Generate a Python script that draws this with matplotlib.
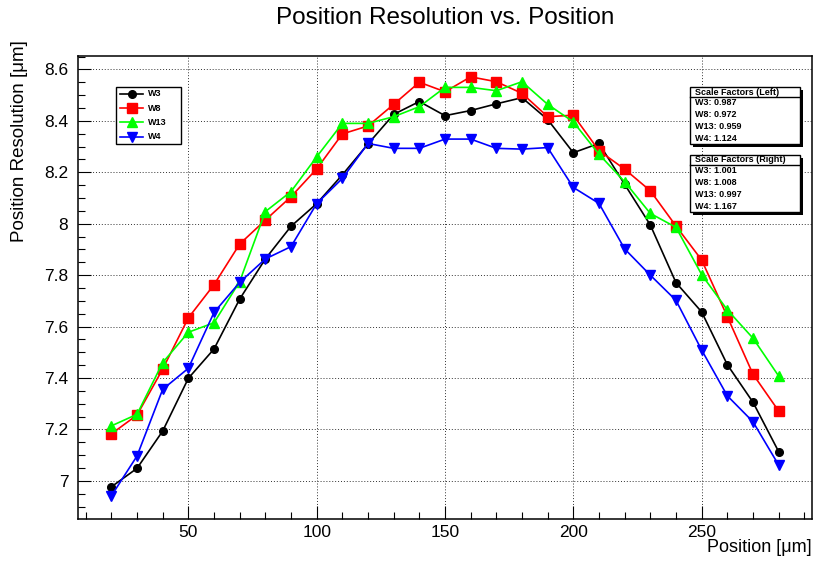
import matplotlib.pyplot as plt
from matplotlib.lines import Line2D
from matplotlib.patches import Rectangle
from matplotlib.ticker import MultipleLocator

plt.rcParams['font.family'] = ['Liberation Sans', 'DejaVu Sans']

# data
position = [20, 30, 40, 50, 60, 70, 80, 90, 100, 110, 120, 130, 140, 150,
            160, 170, 180, 190, 200, 210, 220, 230, 240, 250, 260, 270, 280]
w3 = [6.977, 7.049, 7.194, 7.399, 7.513, 7.707, 7.863, 7.99, 8.078, 8.19,
      8.31, 8.425, 8.475, 8.42, 8.44, 8.466, 8.49, 8.405, 8.276, 8.312,
      8.153, 7.995, 7.771, 7.657, 7.452, 7.306, 7.114]
w8 = [7.183, 7.256, 7.435, 7.634, 7.763, 7.921, 8.014, 8.105, 8.213, 8.349,
      8.38, 8.464, 8.55, 8.513, 8.571, 8.552, 8.507, 8.416, 8.422, 8.284,
      8.212, 8.128, 7.991, 7.859, 7.639, 7.415, 7.272]
w13 = [7.214, 7.259, 7.46, 7.578, 7.615, 7.775, 8.047, 8.125, 8.26, 8.39,
       8.39, 8.416, 8.455, 8.53, 8.53, 8.517, 8.552, 8.464, 8.396, 8.27,
       8.163, 8.04, 7.986, 7.802, 7.665, 7.555, 7.408]
w4 = [6.942, 7.097, 7.356, 7.438, 7.655, 7.772, 7.863, 7.911, 8.078, 8.176,
      8.312, 8.293, 8.293, 8.329, 8.329, 8.293, 8.29, 8.296, 8.141, 8.079,
      7.902, 7.80, 7.702, 7.509, 7.331, 7.23, 7.062]

labels = ['W3', 'W8', 'W13', 'W4']
scale_left = ['0.987', '0.972', '0.959', '1.124']
scale_right = ['1.001', '1.008', '0.997', '1.167']

W, H = 813, 561
def fx(px):
    return px / W
def fy(py):
    return 1 - py / H

colors = ['black', '#ff0000', '#00ff00', '#0000ff']
markers = ['o', 's', '^', 'v']
msizes = [5.5, 6.5, 6.5, 6.5]

fig = plt.figure(figsize=(W / 100, H / 100), dpi=100)
ax = fig.add_axes([fx(78), fy(519), fx(812) - fx(78), fy(56) - fy(519)])

for vals, c, m, ms in zip([w3, w8, w13, w4], colors, markers, msizes):
    ax.plot(position, vals, color=c, marker=m, markersize=ms, linewidth=1.2)

ax.set_xlim(7, 293)
ax.set_ylim(6.852, 8.652)
ax.xaxis.set_major_locator(MultipleLocator(50))
ax.xaxis.set_minor_locator(MultipleLocator(10))
ax.yaxis.set_major_locator(MultipleLocator(0.2))
ax.yaxis.set_minor_locator(MultipleLocator(0.05))
ax.yaxis.set_major_formatter(plt.FuncFormatter(lambda v, p: f'{v:g}'))
ax.tick_params(which='both', direction='in', top=False, right=False, labelsize=12.5)
ax.tick_params(which='major', length=9.5, width=0.8)
ax.tick_params(which='minor', length=5, width=0.8)
ax.tick_params(axis='x', pad=4)
ax.tick_params(axis='y', pad=7)
ax.grid(True, which='major', linestyle=(0, (1, 2)), color='#333333', linewidth=0.7)
for s in ax.spines.values():
    s.set_linewidth(1.1)

fig.text(fx(445.5), fy(18), 'Position Resolution vs. Position', fontsize=17.5,
         ha='center', va='center')
fig.text(fx(20), fy(40), 'Position Resolution [\u03bcm]', fontsize=13.5,
         rotation=90, ha='center', va='top')
fig.text(fx(812), fy(548), 'Position [\u03bcm]', fontsize=13, ha='right', va='center')

# legend box
fig.add_artist(Rectangle((fx(116), fy(144)), fx(181) - fx(116), fy(87) - fy(144),
                         transform=fig.transFigure, facecolor='white',
                         edgecolor='black', linewidth=1, zorder=5))
for i, (lab, c, m, ms) in enumerate(zip(labels, colors, markers, msizes)):
    yy = fy(94 + i * 14.2)
    fig.add_artist(Line2D([fx(120), fx(143)], [yy, yy], transform=fig.transFigure,
                          color=c, linewidth=1.2, zorder=6))
    fig.add_artist(Line2D([fx(131.5)], [yy], transform=fig.transFigure, color=c,
                          marker=m, markersize=ms, zorder=6))
    fig.text(fx(148), yy, lab, fontsize=6.5, fontweight='bold', va='center',
             ha='left', zorder=7)

# scale factor boxes
def scale_box(top, bottom, head_line, title, values):
    fig.add_artist(Rectangle((fx(693), fy(bottom + 3)), fx(800) - fx(690),
                             fy(top + 3) - fy(bottom + 3), transform=fig.transFigure,
                             facecolor='black', edgecolor='none', zorder=5))
    fig.add_artist(Rectangle((fx(690), fy(bottom)), fx(800) - fx(690),
                             fy(top) - fy(bottom), transform=fig.transFigure,
                             facecolor='white', edgecolor='black', linewidth=1, zorder=6))
    fig.add_artist(Line2D([fx(690), fx(800)], [fy(head_line), fy(head_line)],
                          transform=fig.transFigure, color='black', linewidth=1, zorder=7))
    fig.text(fx(695), fy((top + head_line) / 2), title, fontsize=6.5,
             fontweight='bold', va='center', ha='left', zorder=8)
    step = (bottom - head_line) / 4
    for i, (lab, v) in enumerate(zip(labels, values)):
        fig.text(fx(695), fy(head_line + step * (i + 0.5)), f'{lab}: {v}', fontsize=6.5,
                 fontweight='bold', va='center', ha='left', zorder=8)

scale_box(87, 144, 97, 'Scale Factors (Left)', scale_left)
scale_box(155, 212, 165, 'Scale Factors (Right)', scale_right)

fig.savefig('out.png', dpi=100)
